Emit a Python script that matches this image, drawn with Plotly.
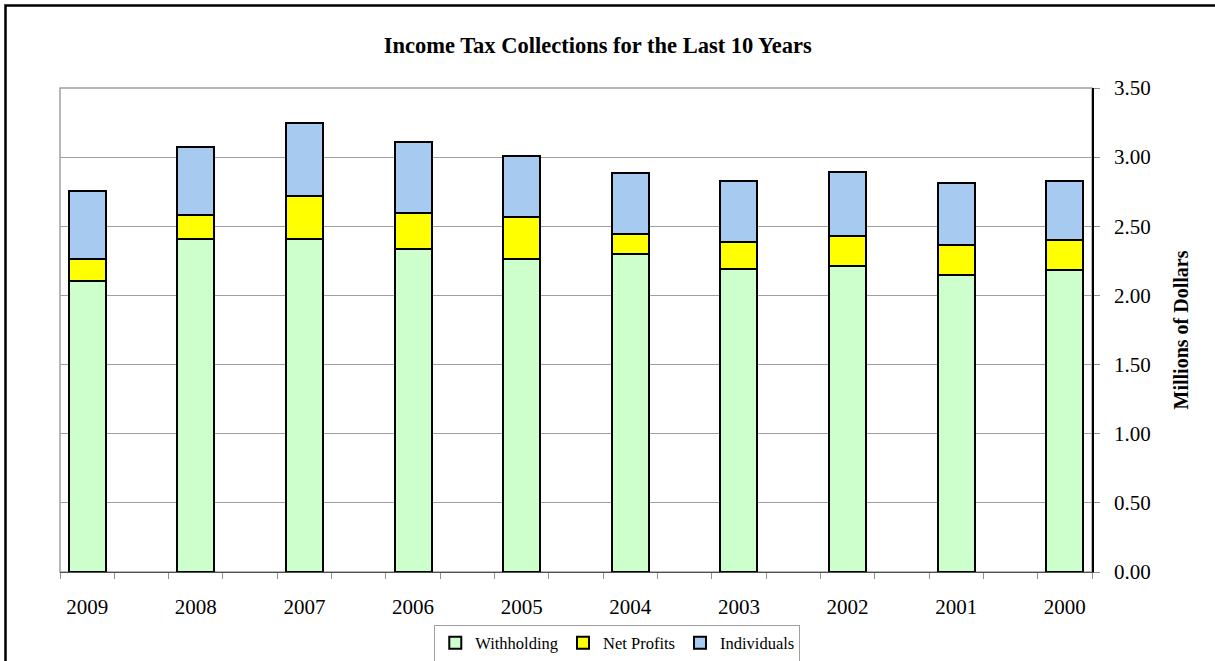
import plotly.graph_objects as go

years = ["2009", "2008", "2007", "2006", "2005", "2004", "2003", "2002", "2001", "2000"]
withholding = [2.106, 2.410, 2.410, 2.336, 2.263, 2.299, 2.193, 2.210, 2.145, 2.181]
net_profits = [0.159, 0.174, 0.307, 0.263, 0.304, 0.143, 0.191, 0.222, 0.217, 0.222]
individuals = [0.489, 0.491, 0.533, 0.507, 0.438, 0.444, 0.446, 0.464, 0.454, 0.427]
y_ticks = [0, 0.5, 1.0, 1.5, 2.0, 2.5, 3.0, 3.5]

xpos = list(range(len(years)))
FONT = "Liberation Serif, Times New Roman, serif"

fig = go.Figure()
for name, vals, color in [
    ("Withholding", withholding, "#CCFFCC"),
    ("Net Profits", net_profits, "#FFFF00"),
    ("Individuals", individuals, "#A6CAF0"),
]:
    fig.add_trace(go.Bar(
        x=xpos, y=vals, name=name, width=0.34,
        marker=dict(color=color, line=dict(color="black", width=2)),
    ))

fig.update_layout(
    barmode="stack",
    width=1215, height=661,
    margin=dict(l=60, r=123, t=88, b=88.5, autoexpand=False),
    paper_bgcolor="white", plot_bgcolor="white",
    font=dict(family=FONT, color="black"),
    title=dict(text="<b>Income Tax Collections for the Last 10 Years</b>",
               x=0.492, xanchor="center", y=1 - 45 / 661, yanchor="middle",
               font=dict(size=22.5, family=FONT, color="black")),
    showlegend=True,
    legend=dict(orientation="h", x=0.54, xanchor="center", y=-0.147, yanchor="middle",
                bordercolor="#A0A0A0", borderwidth=1, bgcolor="white",
                font=dict(size=16.5, family=FONT), itemwidth=30,
                traceorder="normal"),
    xaxis=dict(range=[-0.25, 9.25], tickmode="array", tickvals=xpos, ticktext=years,
               ticks="", showgrid=False, zeroline=False,
               showline=True, linecolor="#505050", linewidth=1,
               tickfont=dict(size=21, family=FONT), ticklabelstandoff=16,
               minor=dict(tickmode="array", tickvals=[i - 0.25 for i in range(11)] + [i + 0.25 for i in range(10)],
                          ticks="outside", ticklen=6, tickcolor="#909090", showgrid=False)),
    yaxis=dict(range=[0, 3.5], side="right", tickmode="array", tickvals=y_ticks,
               tickformat=".2f", ticks="outside", ticklen=6, tickcolor="#909090",
               showgrid=True, gridcolor="#A0A0A0", gridwidth=1, zeroline=False,
               showline=True, linecolor="black", linewidth=1.5,
               tickfont=dict(size=21, family=FONT), ticklabelstandoff=10,
               title=dict(text="<b>Millions of Dollars</b>", standoff=24,
                          font=dict(size=20, family=FONT))),
    shapes=[
        dict(type="rect", xref="paper", yref="paper", x0=0, x1=1, y0=0, y1=1,
             line=dict(color="#A0A0A0", width=1.5), layer="below"),
        dict(type="rect", xref="paper", yref="paper",
             x0=(5.5 - 60) / 1032, x1=(1225 - 60) / 1032,
             y0=(572.5 - 680) / 484.5, y1=(572.5 - 5.5) / 484.5,
             line=dict(color="black", width=2.5)),
    ],
)

fig.write_html("out.html")
